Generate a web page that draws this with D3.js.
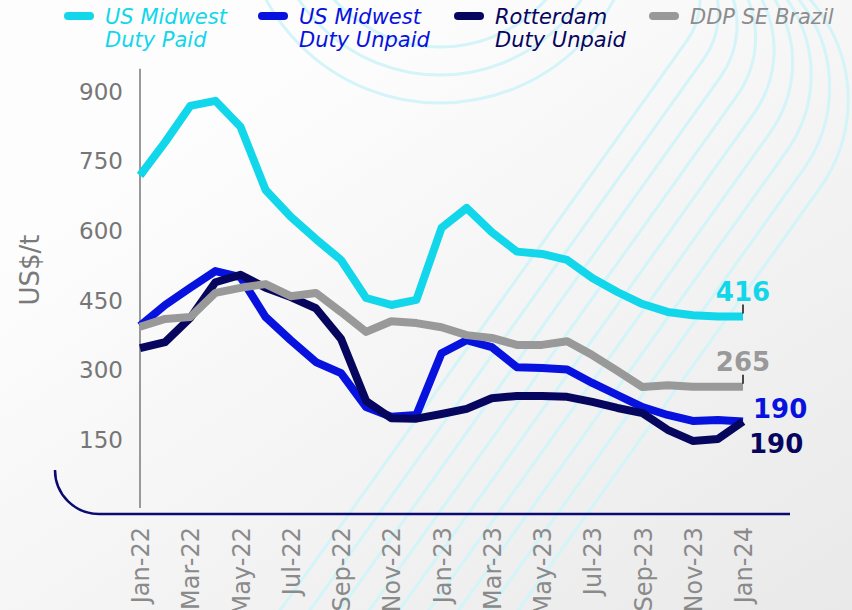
<!DOCTYPE html>
<html>
<head>
<meta charset="utf-8">
<script src="https://cdn.jsdelivr.net/npm/d3@7"></script>
<style>
  body { margin: 0; }
  svg { display: block; }
</style>
</head>
<body>
<svg width="852" height="610"></svg>
<script>
/* global d3 */

const months = ['Jan-22', 'Feb-22', 'Mar-22', 'Apr-22', 'May-22', 'Jun-22', 'Jul-22', 'Aug-22',
  'Sep-22', 'Oct-22', 'Nov-22', 'Dec-22', 'Jan-23', 'Feb-23', 'Mar-23', 'Apr-23', 'May-23',
  'Jun-23', 'Jul-23', 'Aug-23', 'Sep-23', 'Oct-23', 'Nov-23', 'Dec-23', 'Jan-24']
const monthTicks = ['Jan-22', 'Mar-22', 'May-22', 'Jul-22', 'Sep-22', 'Nov-22', 'Jan-23',
  'Mar-23', 'May-23', 'Jul-23', 'Sep-23', 'Nov-23', 'Jan-24']
const yTicks = [150, 300, 450, 600, 750, 900]

const usMidwestPaid = [720, 792, 870, 881, 825, 689, 631, 583, 538, 456, 441, 452, 607,
  650, 598, 556, 551, 538, 499, 469, 443, 426, 419, 416, 416]
const usMidwestUnpaid = [396, 441, 478, 514, 501, 415, 365, 318, 294, 221, 200, 204, 337,
  365, 350, 307, 305, 302, 273, 247, 221, 204, 191, 193, 190]
const rotterdam = [348, 361, 413, 490, 506, 478, 458, 434, 368, 234, 197, 196, 206,
  217, 240, 245, 245, 243, 232, 219, 208, 172, 148, 152, 190]
const ddpBrazil = [394, 411, 415, 467, 478, 486, 460, 467, 426, 383, 406, 402, 393,
  376, 370, 355, 355, 363, 333, 299, 264, 268, 265, 265, 265]

const seriesNames = [['US Midwest', 'Duty Paid'], ['US Midwest', 'Duty Unpaid'],
  ['Rotterdam', 'Duty Unpaid'], ['DDP SE Brazil']]
const seriesColors = ['#12d6ea', '#0812de', '#06065e', '#999999']
const seriesValues = [usMidwestPaid, usMidwestUnpaid, rotterdam, ddpBrazil]

const svg = d3.select('svg')
const width = +svg.attr('width')
const height = +svg.attr('height')

// background
const defs = svg.append('defs')
const grad = defs.append('linearGradient').attr('id', 'bg')
  .attr('x1', 0.25).attr('y1', 0.2).attr('x2', 1).attr('y2', 1)
grad.append('stop').attr('offset', 0).attr('stop-color', '#fdfdfd')
grad.append('stop').attr('offset', 1).attr('stop-color', '#e9e9e9')
svg.append('rect').attr('width', width).attr('height', height).attr('fill', 'url(#bg)')

// decorative rings
const deco = svg.append('g')
  .attr('fill', 'none')
  .attr('stroke', '#d3f4f8')
  .attr('stroke-width', 3)
const nx = 0.814
const ny = 0.581
d3.range(9).forEach((j) => {
  const cx = 630 + 8.4 * j
  const cy = 12.5 * j
  const r = 70 + 10.125 * j
  const tx = cx + r * nx
  const ty = cy + r * ny
  const p = d3.path()
  p.moveTo(tx - (height + 10 - ty) / 1.4, height + 10)
  p.lineTo(tx, ty)
  p.arc(cx, cy, r, Math.atan2(ny, nx), -Math.PI / 2, true)
  deco.append('path').attr('d', p.toString())
})
;[142, 170, 198].forEach((r) => {
  deco.append('circle').attr('cx', 440).attr('cy', -95).attr('r', r)
})

// scales
const x = d3.scalePoint().domain(months).range([140, 743])
const y = d3.scaleLinear().domain([0, 950]).range([509.6, 68.8])

// y axis
const yAxis = svg.append('g')
  .attr('transform', 'translate(140,0)')
  .call(d3.axisLeft(y).tickValues(yTicks).tickSize(0).tickPadding(17))
yAxis.select('.domain').remove()
yAxis.selectAll('text')
  .attr('font-family', 'DejaVu Sans')
  .attr('font-size', 23)
  .attr('fill', '#767676')
svg.append('line')
  .attr('x1', 140).attr('x2', 140)
  .attr('y1', y(950)).attr('y2', 508)
  .attr('stroke', '#999').attr('stroke-width', 2)

svg.append('text')
  .attr('transform', 'translate(39,270) rotate(-90)')
  .attr('text-anchor', 'middle')
  .attr('font-family', 'DejaVu Sans')
  .attr('font-size', 26)
  .attr('fill', '#7a7a7a')
  .text('US$/t')

// x axis
const xAxis = svg.append('g')
  .attr('transform', 'translate(0,515)')
  .call(d3.axisBottom(x).tickValues(monthTicks).tickSize(0))
xAxis.select('.domain').remove()
xAxis.selectAll('text')
  .attr('transform', 'rotate(-90)')
  .attr('x', -12)
  .attr('y', 0)
  .attr('dy', '0.36em')
  .attr('text-anchor', 'end')
  .attr('font-family', 'DejaVu Sans')
  .attr('font-size', 24)
  .attr('fill', '#8a8a8a')

// baseline with rounded corner
svg.append('path')
  .attr('d', 'M55,470 A44,44 0 0 0 99,514 H790')
  .attr('fill', 'none')
  .attr('stroke', '#0a0a70')
  .attr('stroke-width', 2.5)

// lines
const line = d3.line()
  .x((d, i) => x(months[i]))
  .y((d) => y(d))

const drawOrder = [1, 2, 3, 0]
drawOrder.forEach((k) => {
  svg.append('path')
    .datum(seriesValues[k])
    .attr('fill', 'none')
    .attr('stroke', seriesColors[k])
    .attr('stroke-width', 8)
    .attr('stroke-linejoin', 'round')
    .attr('d', line)
})

// end labels
const lastX = x(months[months.length - 1])
const endLabel = (k, dx, dy, anchor, tick) => {
  const vals = seriesValues[k]
  const yEnd = y(vals[vals.length - 1])
  if (tick) {
    svg.append('line')
      .attr('x1', lastX).attr('x2', lastX)
      .attr('y1', yEnd - 12).attr('y2', yEnd - 3)
      .attr('stroke', '#111').attr('stroke-width', 1.5)
  }
  svg.append('text')
    .attr('x', lastX + dx)
    .attr('y', yEnd + dy)
    .attr('text-anchor', anchor)
    .attr('font-family', 'DejaVu Sans')
    .attr('font-weight', 'bold')
    .attr('font-size', 26)
    .attr('fill', seriesColors[k])
    .text(vals[vals.length - 1])
}
endLabel(0, 0, -16, 'middle', true)
endLabel(3, 0, -16, 'middle', true)
endLabel(1, 10, -3, 'start', false)
endLabel(2, 6, 32, 'start', false)

// legend
const legendX = [64, 258, 454, 649]
const legend = svg.append('g')
seriesNames.forEach((names, k) => {
  const lg = legend.append('g').attr('transform', `translate(${legendX[k]},0)`)
  lg.append('rect')
    .attr('x', 0).attr('y', 12)
    .attr('width', 30).attr('height', 8).attr('rx', 4)
    .attr('fill', seriesColors[k])
  names.forEach((t, i) => {
    lg.append('text')
      .attr('x', 41)
      .attr('y', 24 + i * 23)
      .attr('font-family', 'DejaVu Sans')
      .attr('font-style', 'italic')
      .attr('font-size', 21)
      .attr('fill', k === 3 ? '#8c8c8c' : seriesColors[k])
      .text(t)
  })
})
</script>
</body>
</html>
